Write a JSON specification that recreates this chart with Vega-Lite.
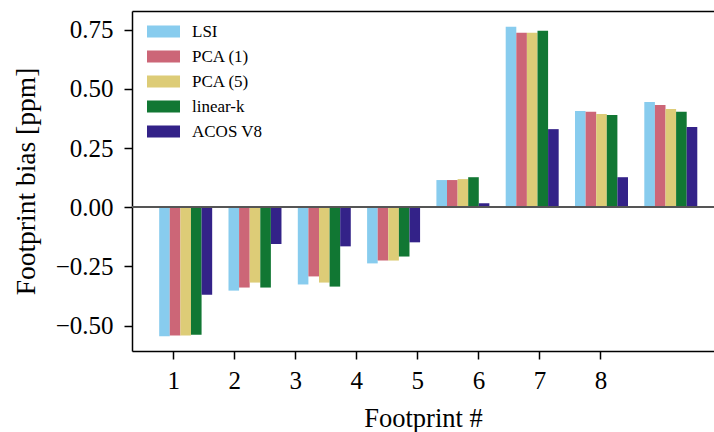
{
  "$schema": "https://vega.github.io/schema/vega-lite/v6.json",
  "width": 582,
  "height": 340,
  "autosize": {"type": "none"},
  "padding": {"left": 132, "top": 11, "right": 0, "bottom": 81},
  "background": "white",
  "config": {
    "view": {"stroke": null},
    "font": "Liberation Serif",
    "axis": {
      "labelFont": "Liberation Serif",
      "titleFont": "Liberation Serif",
      "labelFontSize": 25,
      "titleFontSize": 26.5,
      "labelColor": "black",
      "titleColor": "black",
      "titleFontWeight": "normal",
      "domainColor": "black",
      "domainWidth": 1.5,
      "tickColor": "black",
      "tickWidth": 1.5,
      "tickSize": 8,
      "grid": false
    },
    "legend": {
      "labelFont": "Liberation Serif",
      "labelFontSize": 17,
      "labelColor": "black"
    }
  },
  "data": {
    "values": [
      {"fp": 1, "method": "LSI", "bias": -0.545},
      {"fp": 1, "method": "PCA (1)", "bias": -0.542},
      {"fp": 1, "method": "PCA (5)", "bias": -0.542},
      {"fp": 1, "method": "linear-k", "bias": -0.538},
      {"fp": 1, "method": "ACOS V8", "bias": -0.369},
      {"fp": 2, "method": "LSI", "bias": -0.352},
      {"fp": 2, "method": "PCA (1)", "bias": -0.339},
      {"fp": 2, "method": "PCA (5)", "bias": -0.318},
      {"fp": 2, "method": "linear-k", "bias": -0.339},
      {"fp": 2, "method": "ACOS V8", "bias": -0.155},
      {"fp": 3, "method": "LSI", "bias": -0.326},
      {"fp": 3, "method": "PCA (1)", "bias": -0.292},
      {"fp": 3, "method": "PCA (5)", "bias": -0.318},
      {"fp": 3, "method": "linear-k", "bias": -0.335},
      {"fp": 3, "method": "ACOS V8", "bias": -0.165},
      {"fp": 4, "method": "LSI", "bias": -0.237},
      {"fp": 4, "method": "PCA (1)", "bias": -0.225},
      {"fp": 4, "method": "PCA (5)", "bias": -0.225},
      {"fp": 4, "method": "linear-k", "bias": -0.208},
      {"fp": 4, "method": "ACOS V8", "bias": -0.148},
      {"fp": 5, "method": "LSI", "bias": 0.115},
      {"fp": 5, "method": "PCA (1)", "bias": 0.115},
      {"fp": 5, "method": "PCA (5)", "bias": 0.119},
      {"fp": 5, "method": "linear-k", "bias": 0.127},
      {"fp": 5, "method": "ACOS V8", "bias": 0.017},
      {"fp": 6, "method": "LSI", "bias": 0.763},
      {"fp": 6, "method": "PCA (1)", "bias": 0.737},
      {"fp": 6, "method": "PCA (5)", "bias": 0.737},
      {"fp": 6, "method": "linear-k", "bias": 0.746},
      {"fp": 6, "method": "ACOS V8", "bias": 0.33},
      {"fp": 7, "method": "LSI", "bias": 0.407},
      {"fp": 7, "method": "PCA (1)", "bias": 0.403},
      {"fp": 7, "method": "PCA (5)", "bias": 0.394},
      {"fp": 7, "method": "linear-k", "bias": 0.39},
      {"fp": 7, "method": "ACOS V8", "bias": 0.127},
      {"fp": 8, "method": "LSI", "bias": 0.445},
      {"fp": 8, "method": "PCA (1)", "bias": 0.432},
      {"fp": 8, "method": "PCA (5)", "bias": 0.415},
      {"fp": 8, "method": "linear-k", "bias": 0.403},
      {"fp": 8, "method": "ACOS V8", "bias": 0.339}
    ]
  },
  "layer": [
    {
      "mark": {"type": "bar"},
      "encoding": {
        "x": {
          "field": "fp",
          "type": "ordinal",
          "scale": {"paddingInner": 0, "paddingOuter": 0.199, "align": 0.69},
          "axis": {"orient": "top", "labels": false, "ticks": false, "title": null, "domain": true}
        },
        "xOffset": {
          "field": "method",
          "type": "nominal",
          "sort": ["LSI", "PCA (1)", "PCA (5)", "linear-k", "ACOS V8"],
          "scale": {"paddingInner": 0, "paddingOuter": 0.77}
        },
        "y": {
          "field": "bias",
          "type": "quantitative",
          "scale": {"domain": [-0.607, 0.829], "nice": false, "zero": false},
          "axis": {
            "values": [-0.5, -0.25, 0, 0.25, 0.5, 0.75],
            "format": ".2f",
            "title": "Footprint bias [ppm]",
            "titleFontSize": 27.5,
            "labelPadding": 11,
            "titlePadding": 15
          }
        },
        "color": {
          "field": "method",
          "type": "nominal",
          "sort": ["LSI", "PCA (1)", "PCA (5)", "linear-k", "ACOS V8"],
          "scale": {
            "domain": ["LSI", "PCA (1)", "PCA (5)", "linear-k", "ACOS V8"],
            "range": ["#88CCEE", "#CC6677", "#DDCC77", "#117733", "#332288"]
          },
          "legend": {
            "title": null,
            "orient": "none",
            "legendX": 15,
            "legendY": 4,
            "padding": 0,
            "symbolType": "M-1,-0.364H1V0.364H-1Z",
            "symbolSize": 1089,
            "symbolStrokeWidth": 0,
            "symbolOpacity": 1,
            "labelOffset": 12,
            "rowPadding": 0
          }
        }
      }
    },
    {
      "mark": {"type": "rule", "color": "#555555", "strokeWidth": 1.5, "opacity": 0.8},
      "encoding": {"y": {"datum": 0}}
    },
    {
      "mark": {"type": "point", "opacity": 0},
      "encoding": {
        "x": {
          "field": "fp",
          "type": "quantitative",
          "scale": {"domain": [0.325, 9.86], "nice": false, "zero": false},
          "axis": {
            "orient": "bottom",
            "values": [1, 2, 3, 4, 5, 6, 7, 8],
            "format": "d",
            "title": "Footprint #",
            "labelPadding": 9,
            "titlePadding": 12
          }
        },
        "y": {"field": "bias", "type": "quantitative"}
      }
    }
  ],
  "resolve": {"scale": {"x": "independent"}}
}
